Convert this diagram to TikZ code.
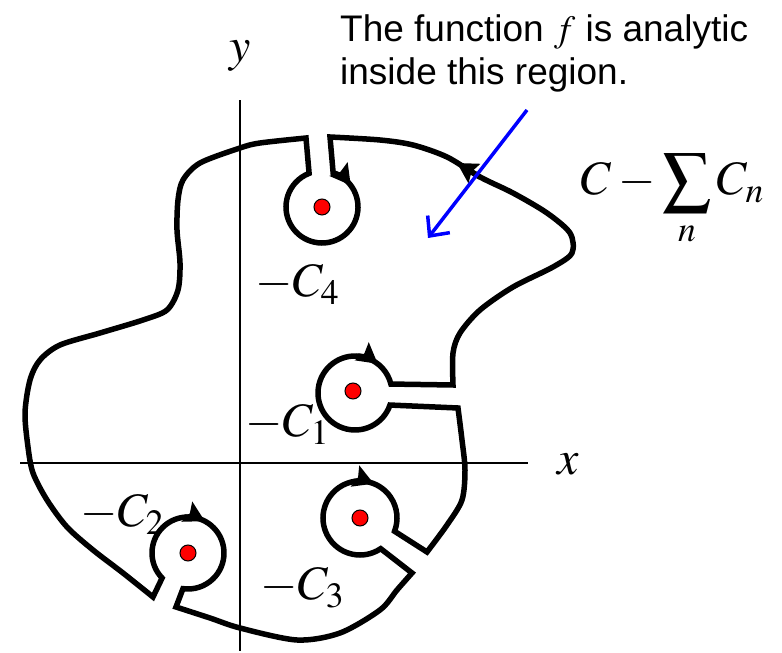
\documentclass[tikz,border=0pt]{standalone}
\usepackage{mathptmx}
\usepackage{fontspec}
\setmainfont{Liberation Serif}
\newfontfamily\notefont{Liberation Sans}
\usetikzlibrary{arrows.meta, calc}

\begin{document}
\begin{tikzpicture}[
    x=1pt, y=1pt,
    contour/.style={line width=5.5pt, black, line join=miter},
    axisline/.style={line width=2pt, black},
    flowtip/.style={-{Stealth[length=20pt, width=22pt, inset=3pt]}, line width=5.5pt},
    pointer/.style={-{Straight Barb[length=15pt, width=28pt]}, line width=3.5pt, blue},
    pole/.style={circle, draw=black, fill=red, line width=1pt, minimum size=16pt, inner sep=0pt},
    lbl/.style={font=\fontsize{48}{56}\selectfont, inner sep=0pt, anchor=base west}
]
\useasboundingbox (0,0) rectangle (782,653);

% centres of the small circles
\coordinate (c1) at (355,260);
\coordinate (c2) at (188,100);
\coordinate (c3) at (360,135);
\coordinate (c4) at (322,446);

% axes
\coordinate (xl) at (20,190);
\coordinate (xr) at (528,190);
\coordinate (yt) at (240,553);
\coordinate (yb) at (240,2);
\draw[axisline] (xl) -- (xr);
\draw[axisline] (yb) -- (yt);

% the contour C minus the small circles
\draw[contour]
  plot[smooth] coordinates {(306,515) (260,510) (240,505) (200,490) (183,473) (178,453)
      (177,423) (180,390) (178,363) (167,343) (143,333) (100,320) (60,308) (40,293)
      (30,273) (25,240) (28,206) (33,180) (47,153) (67,126) (93,103) (123,80) (153,56)}
  -- ($(c2)+(224:36)$) arc[start angle=224, end angle=-98, radius=36]
  -- plot[smooth] coordinates {(176,46) (210,35) (240,25) (297,13) (340,20) (380,43)
      (397,63) (412,80)}
  -- ($(c3)+(-56:37)$) arc[start angle=-56, end angle=-381, radius=37]
  -- plot[smooth] coordinates {(427,101) (447,128) (462,153) (465,183) (462,213) (458,245)}
  -- ($(c1)+(-19:37)$) arc[start angle=-19, end angle=-346, radius=37]
  -- plot[smooth] coordinates {(453,268) (453,300) (460,320) (480,343) (513,366)
      (553,386) (572,400) (570,420) (547,440) (513,460) (480,476) (447,496)
      (413,508) (380,513) (330,516)}
  -- ($(c4)+(72:36)$) arc[start angle=72, end angle=-249, radius=36]
  -- cycle;

% direction marks
\draw[flowtip] (480,476) -- (457,490);
\draw[flowtip] ($(c4)+(70:36)$) arc[start angle=70, end angle=37, radius=36];
\draw[flowtip] ($(c1)+(85:37)$) arc[start angle=85, end angle=52, radius=37];
\draw[flowtip] ($(c3)+(100:37)$) arc[start angle=100, end angle=68, radius=37];
\draw[flowtip] ($(c2)+(95:36)$) arc[start angle=95, end angle=62, radius=36];

% poles
\node[pole] (p1) at (353,262) {};
\node[pole] (p2) at (c2) {};
\node[pole] (p3) at (c3) {};
\node[pole] (p4) at (c4) {};

% labels
\node[lbl, anchor=base] (ylbl) at (240,591) {$y$};
\node[lbl, anchor=base] (xlbl) at (568,178) {$x$};
\node[lbl] (l4) at (255,356) {$-C_4$};
\node[lbl] (l1) at (245,216) {$-C_1$};
\node[lbl] (l2) at (80,126) {$-C_2$};
\node[lbl] (l3) at (260,53) {$-C_3$};
\node[lbl] (sumlbl) at (581,458) {$\displaystyle C-\sum_n C_n$};

\node[font=\notefont\fontsize{37}{43}\selectfont, align=left, anchor=north west, inner sep=0pt]
  (note) at (340,639) {The function $f$ is analytic\\inside this region.};

% pointer into the region
\coordinate (tail) at (527,543);
\coordinate (head) at (428,415);
\draw[pointer] (tail) -- (head);

\end{tikzpicture}
\end{document}
